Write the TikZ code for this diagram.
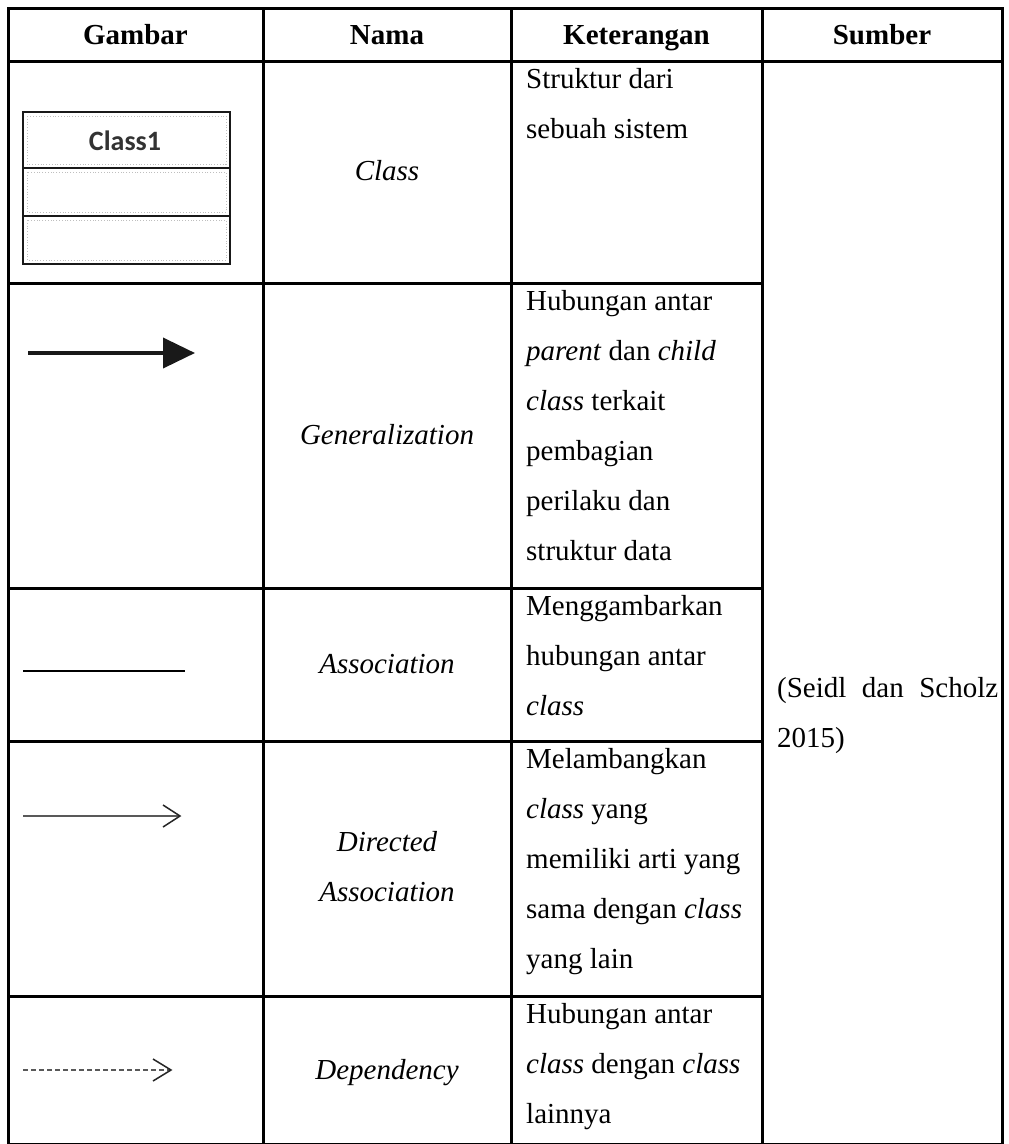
\documentclass[tikz,border=0pt]{standalone}
\usepackage{fontspec}
\setmainfont{Liberation Serif}
\newfontfamily\iconfont{Carlito}
\usetikzlibrary{arrows.meta}
\begin{document}
\begin{tikzpicture}[x=1pt,y=-1pt,
  gridline/.style={line width=3pt, line cap=rect, draw=black},
  body/.style={inner sep=0pt, font=\fontsize{29}{50}\selectfont, align=left, anchor=north west},
  hdr/.style={inner sep=0pt, anchor=base, font=\fontsize{29}{34}\selectfont\bfseries},
  nama/.style={inner sep=0pt, font=\fontsize{29}{50}\selectfont\itshape, align=center},
  iconline/.style={line width=2.8pt, draw=black!90},
  texture/.style={draw=black!25, dotted, line width=0.8pt},
]
\useasboundingbox (0,0) rectangle (1009,1144);
\fill[white] (0,0) rectangle (1009,1144);

% table grid
\draw[gridline] (8,8) rectangle (1002,1144);
\draw[gridline] (263,8) -- (263,1144);
\draw[gridline] (511,8) -- (511,1144);
\draw[gridline] (762,8) -- (762,1144);
\draw[gridline] (8,61) -- (1002,61);
\draw[gridline] (8,283) -- (762,283);
\draw[gridline] (8,588) -- (762,588);
\draw[gridline] (8,741) -- (762,741);
\draw[gridline] (8,996) -- (762,996);

% header
\node[hdr] (h1) at (135.5,44) {Gambar};
\node[hdr] (h2) at (387,44) {Nama};
\node[hdr] (h3) at (636.5,44) {Keterangan};
\node[hdr] (h4) at (882,44) {Sumber};

% class icon
\draw[texture] (27,116) rectangle (226,164);
\draw[texture] (27,172) rectangle (226,212);
\draw[texture] (27,220) rectangle (226,260);
\draw[iconline] (23,112) rectangle (230,264);
\draw[iconline] (23,168) -- (230,168);
\draw[iconline] (23,216) -- (230,216);
\node[inner sep=0pt, font=\iconfont\bfseries\fontsize{28}{30}\selectfont, text=black!80] (c1) at (125,141) {Class1};

% generalization
\coordinate (g0) at (28,353);
\coordinate (g1) at (195,353);
\draw[line width=3.8pt, draw=black!90, -{Triangle[length=32pt,width=30pt]}] (g0) -- (g1);

% association
\coordinate (a0) at (23,671);
\coordinate (a1) at (185,671);
\draw[line width=2.8pt] (a0) -- (a1);

% directed association
\coordinate (d0) at (23,816);
\coordinate (d1) at (180,816);
\draw[line width=2.4pt, draw=black!65] (d0) -- (d1);
\draw[line width=1.5pt, draw=black!85] (d1) ++(-17,-11) -- (d1) -- ++(-17,11);

% dependency
\coordinate (e0) at (23,1070);
\coordinate (e1) at (171,1070);
\draw[line width=2.4pt, draw=black!65, dash pattern=on 5pt off 3pt] (e0) -- (e1);
\draw[line width=1.5pt, draw=black!85] (e1) ++(-18,-11) -- (e1) -- ++(-18,11);

% nama
\node[nama, anchor=base] (n1) at (387,180) {Class};
\node[nama, anchor=base] (n2) at (387,444) {Generalization};
\node[nama, anchor=base] (n3) at (387,673) {Association};
\node[nama, anchor=north] (n4) at (387,826) {\rule{0pt}{25pt}Directed\\Association};
\node[nama, anchor=base] (n5) at (387,1079) {Dependency};

% keterangan
\node[body] (k1) at (526,63) {\rule{0pt}{25pt}Struktur dari\\sebuah sistem};
\node[body] (k2) at (526,285) {\rule{0pt}{25pt}Hubungan antar\\\textit{parent} dan \textit{child}\\\textit{class} terkait\\pembagian\\perilaku dan\\struktur data};
\node[body] (k3) at (526,590) {\rule{0pt}{25pt}Menggambarkan\\hubungan antar\\\textit{class}};
\node[body] (k4) at (526,743) {\rule{0pt}{25pt}Melambangkan\\\textit{class} yang\\memiliki arti yang\\sama dengan \textit{class}\\yang lain};
\node[body] (k5) at (526,998) {\rule{0pt}{25pt}Hubungan antar\\\textit{class} dengan \textit{class}\\lainnya};

% sumber
\node[body] (s1) at (777,672) {\rule{0pt}{25pt}\hbox to 221pt{(Seidl\hfill dan\hfill Scholz}\\2015)};
\end{tikzpicture}
\end{document}
